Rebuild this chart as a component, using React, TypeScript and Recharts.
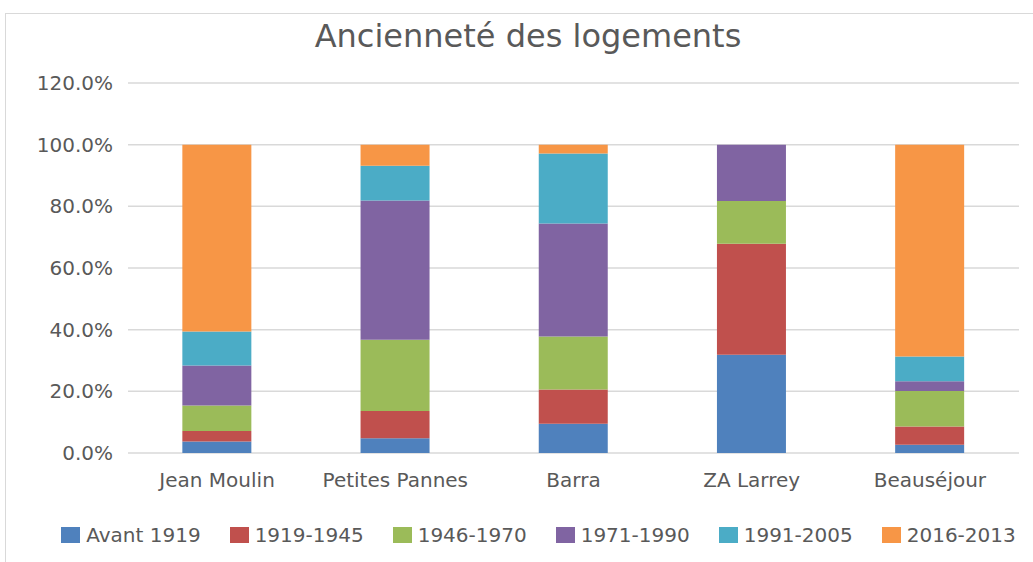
import React from "react";
import { BarChart, Bar, XAxis, YAxis, CartesianGrid } from "recharts";

const categories = ["Jean Moulin", "Petites Pannes", "Barra", "ZA Larrey", "Beauséjour"];
const seriesNames = ["Avant 1919", "1919-1945", "1946-1970", "1971-1990", "1991-2005", "2016-2013"];
const seriesColors = ["#4F81BD", "#C0504D", "#9BBB59", "#8064A2", "#4BACC6", "#F79646"];
const avant1919 = [3.7, 4.8, 9.5, 31.9, 2.7];
const p1919_1945 = [3.4, 8.8, 11.1, 36.0, 5.9];
const p1946_1970 = [8.3, 23.1, 17.2, 13.8, 11.5];
const p1971_1990 = [13.0, 45.2, 36.6, 18.3, 3.2];
const p1991_2005 = [11.0, 11.3, 22.7, 0, 8.0];
const p2016_2013 = [60.6, 6.8, 2.9, 0, 68.7];
const yTicks = [0, 20, 40, 60, 80, 100, 120];

const seriesValues = [avant1919, p1919_1945, p1946_1970, p1971_1990, p1991_2005, p2016_2013];
const keys = ["s0", "s1", "s2", "s3", "s4", "s5"];
const data = categories.map((c, i) => {
  const row: Record<string, string | number> = { name: c };
  keys.forEach((k, j) => (row[k] = seriesValues[j][i]));
  return row;
});

const FONT = "'DejaVu Sans', sans-serif";
const TXT = "#595959";

export default function App() {
  return (
    <div
      style={{
        position: "fixed",
        left: 0,
        top: 0,
        width: 1033,
        height: 562,
        overflow: "hidden",
        background: "#fff",
        fontFamily: FONT,
      }}
    >
      <div
        style={{
          position: "absolute",
          left: 5,
          top: 13,
          width: 1100,
          height: 700,
          border: "1px solid #D9D9D9",
        }}
      />
      <div
        style={{
          position: "absolute",
          left: 0,
          top: 14,
          width: 1056,
          textAlign: "center",
          fontSize: 32,
          color: TXT,
          lineHeight: "44px",
        }}
      >
        Ancienneté des logements
      </div>
      <div style={{ position: "absolute", left: 0, top: 0 }}>
        <BarChart
          width={1033}
          height={562}
          data={data}
          margin={{ top: 83, right: 14, bottom: 79, left: 0 }}
          barCategoryGap="30.5%"
        >
          <CartesianGrid vertical={false} stroke="#D9D9D9" strokeWidth={1.5} />
          <XAxis
            dataKey="name"
            height={30}
            axisLine={false}
            tickLine={false}
            tickSize={0}
            tickMargin={20}
            tick={{ fill: TXT, fontSize: 20, fontFamily: FONT }}
            interval={0}
          />
          <YAxis
            width={128}
            domain={[0, 120]}
            ticks={yTicks}
            axisLine={false}
            tickLine={false}
            tickSize={0}
            tickMargin={15}
            tickFormatter={(v: number) => v.toFixed(1) + "%"}
            tick={{ fill: TXT, fontSize: 20, fontFamily: FONT }}
          />
          {keys.map((k, j) => (
            <Bar
              key={k}
              dataKey={k}
              name={seriesNames[j]}
              stackId="a"
              fill={seriesColors[j]}
              isAnimationActive={false}
            />
          ))}
        </BarChart>
      </div>
      <div
        style={{
          position: "absolute",
          left: 0,
          top: 521,
          width: 1077,
          display: "flex",
          justifyContent: "center",
          alignItems: "center",
          fontSize: 20,
          color: TXT,
          height: 28,
        }}
      >
        {seriesNames.map((n, j) => (
          <div
            key={n}
            style={{
              display: "flex",
              alignItems: "center",
              marginRight: j < seriesNames.length - 1 ? 29 : 0,
            }}
          >
            <span
              style={{
                display: "inline-block",
                width: 19,
                height: 16,
                background: seriesColors[j],
                marginRight: 6,
              }}
            />
            <span>{n}</span>
          </div>
        ))}
      </div>
    </div>
  );
}
